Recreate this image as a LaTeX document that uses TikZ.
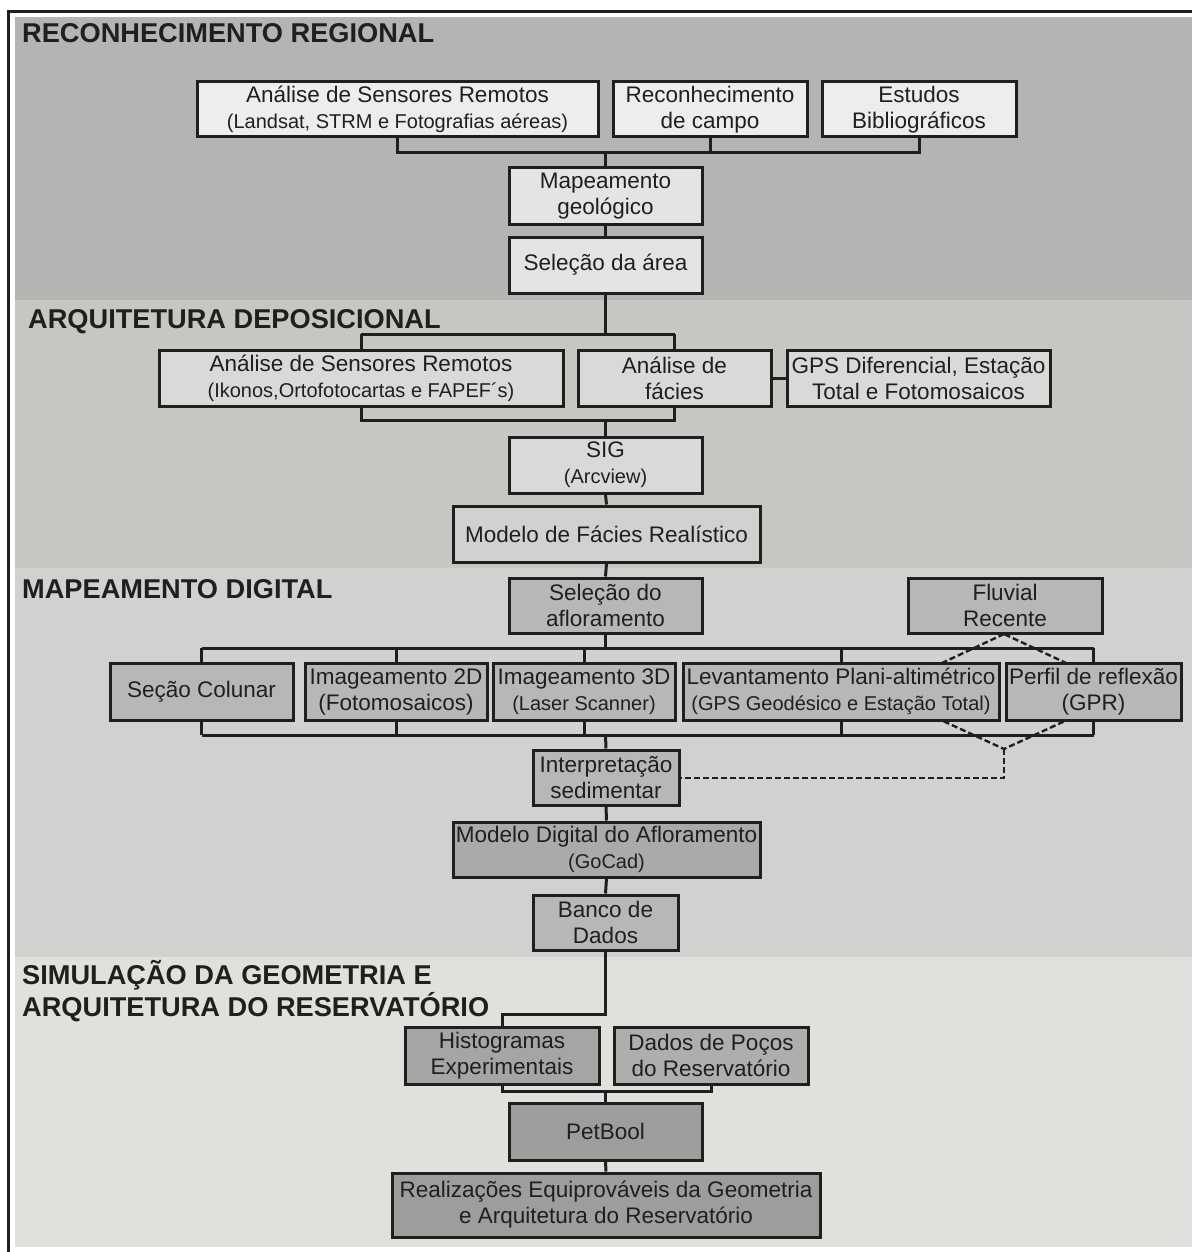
\documentclass[tikz,border=0pt]{standalone}
\usepackage{fontspec}
\setmainfont{Liberation Sans}
\newcommand\mainf{\fontsize{22.5}{26}\selectfont}
\newcommand\subf{\fontsize{20}{26}\selectfont}
\pgfdeclarelayer{bands}
\pgfdeclarelayer{lines}
\pgfsetlayers{bands,lines,main}
\definecolor{ink}{HTML}{1F1F1F}
\definecolor{bandA}{HTML}{B4B4B2}
\definecolor{bandB}{HTML}{C6C6C3}
\definecolor{bandC}{HTML}{D1D1D0}
\definecolor{bandD}{HTML}{E0E0DC}
\definecolor{fA}{HTML}{EDEDEB}
\definecolor{fAb}{HTML}{E4E4E2}
\definecolor{fB}{HTML}{D9D9D7}
\definecolor{fBb}{HTML}{D1D1CF}
\definecolor{fC}{HTML}{B7B7B5}
\definecolor{fCb}{HTML}{AAAAA8}
\definecolor{fD}{HTML}{A5A5A4}
\definecolor{fDb}{HTML}{9E9D9B}
\begin{document}
\begin{tikzpicture}[x=1pt,y=-1pt,
  box/.style={draw=ink, line width=3pt, inner sep=0pt, align=center, text=ink, font=\mainf},
  conn/.style={draw=ink, line width=3pt},
  dconn/.style={draw=ink, line width=2.4pt, dash pattern=on 6pt off 3pt},
  hd/.style={font=\fontsize{27.2}{31}\selectfont\bfseries, anchor=base west, inner sep=0pt, text=ink, align=left}]
\useasboundingbox (0,0) rectangle (1192,1252);

\begin{pgfonlayer}{bands}
\fill[white] (0,0) rectangle (1192,1252);
\fill[bandA] (15,17) rectangle (1192,300);
\fill[bandB] (15,300) rectangle (1192,568);
\fill[bandC] (15,568) rectangle (1192,957);
\fill[bandD] (15,957) rectangle (1192,1247);
\draw[ink, line width=3pt] (8.5,1252) -- (8.5,11.5) -- (1192,11.5);
\end{pgfonlayer}

% headings
\node[hd] (h1) at (22,43) {RECONHECIMENTO REGIONAL};
\node[hd] (h2) at (28,328) {ARQUITETURA DEPOSICIONAL};
\node[hd] (h3) at (22,598) {MAPEAMENTO DIGITAL};
\node[hd] (h4) at (22,984) {SIMULAÇÃO DA GEOMETRIA E};
\node[hd] (h5) at (22,1016) {ARQUITETURA DO RESERVATÓRIO};

% band 1
\node[box, fill=fA, minimum width=401, minimum height=55] (A1) at (397.5,109.5) {Análise de Sensores Remotos\\{\subf (Landsat, STRM e Fotografias aéreas)}};
\node[box, fill=fA, minimum width=194, minimum height=55] (A2) at (710,109.5) {Reconhecimento\\de campo};
\node[box, fill=fA, minimum width=194, minimum height=55] (A3) at (919,109.5) {Estudos\\Bibliográficos};
\node[box, fill=fAb, minimum width=193, minimum height=56] (M1) at (605.5,196) {Mapeamento\\geológico};
\node[box, fill=fAb, minimum width=193, minimum height=56] (M2) at (605.5,265) {Seleção da área};

% band 2
\node[box, fill=fB, minimum width=404, minimum height=56] (B1) at (361,378) {Análise de Sensores Remotos\\{\subf (Ikonos,Ortofotocartas e FAPEF´s)}};
\node[box, fill=fB, minimum width=193, minimum height=56] (B2) at (674.5,378) {Análise de\\fácies};
\node[box, fill=fB, minimum width=263, minimum height=56] (B3) at (918.5,378) {GPS Diferencial, Estação\\Total e Fotomosaicos};
\node[box, fill=fB, minimum width=193, minimum height=56] (S1) at (605.5,465) {SIG\\{\subf (Arcview)}};
\node[box, fill=fBb, minimum width=307, minimum height=56] (F1) at (606.5,534) {Modelo de Fácies Realístico};

% band 3
\node[box, fill=fC, minimum width=193, minimum height=55] (C0) at (605.5,605.5) {Seleção do\\afloramento};
\node[box, fill=fC, minimum width=194, minimum height=55] (FR) at (1005,605.5) {Fluvial\\Recente};
\node[box, fill=fC, minimum width=183, minimum height=57] (C1) at (201.5,691.5) {Seção Colunar};
\node[box, fill=fC, minimum width=182, minimum height=57] (C2) at (396,691.5) {Imageamento 2D\\(Fotomosaicos)};
\node[box, fill=fC, minimum width=182, minimum height=57] (C3) at (584,691.5) {Imageamento 3D\\{\subf (Laser Scanner)}};
\node[box, fill=fC, minimum width=316, minimum height=57] (C4) at (841,691.5) {Levantamento Plani-altimétrico\\{\subf (GPS Geodésico e Estação Total)}};
\node[box, fill=fC, minimum width=175, minimum height=57] (C5) at (1093.5,691.5) {Perfil de reflexão\\(GPR)};
\node[box, fill=fC, minimum width=146, minimum height=55] (I1) at (606,777.5) {Interpretação\\sedimentar};
\node[box, fill=fCb, minimum width=307, minimum height=55] (MD) at (606.5,849.5) {Modelo Digital do Afloramento\\{\subf (GoCad)}};
\node[box, fill=fC, minimum width=145, minimum height=55] (BD) at (605.5,922.5) {Banco de\\Dados};

% band 4
\node[box, fill=fD, minimum width=194, minimum height=57] (H1) at (502,1055.5) {Histogramas\\Experimentais};
\node[box, fill=fD!90!white, minimum width=194, minimum height=57] (D1) at (711,1055.5) {Dados de Poços\\do Reservatório};
\node[box, fill=fDb, minimum width=193, minimum height=57] (P1) at (605.5,1131.5) {PetBool};
\node[box, fill=fDb, minimum width=428, minimum height=64] (R1) at (606,1205) {Realizações Equiprováveis da Geometria\\e Arquitetura do Reservatório};

% junction coordinates
\coordinate (jA) at (605.5,153);
\coordinate (jB1) at (605.5,334);
\coordinate (jB2) at (605.5,420);
\coordinate (jC1) at (605.5,648);
\coordinate (jC2) at (605.5,735);
\coordinate (jD1) at (502,1014);
\coordinate (jD2) at (605.5,1091);
\coordinate (dT) at (1004,634);
\coordinate (dL) at (880,692);
\coordinate (dR) at (1128,692);
\coordinate (dB) at (1004,749);
\coordinate (dK) at (1004,778);

\begin{pgfonlayer}{lines}
% band 1
\draw[conn] (A1.south) |- (jA) -| (A3.south);
\draw[conn] (A2.south) -- (A2.south |- jA);
\draw[conn] (jA) -- (M1.north);
\draw[conn] (M1.south) -- (M2.north);
% band 2
\draw[conn] (M2.south) -- (jB1);
\draw[conn] (B1.center |- jB1) -- (B2.center |- jB1);
\draw[conn] (B1.center |- jB1) -- (B1.north);
\draw[conn] (B2.center |- jB1) -- (B2.north);
\draw[conn] (B1.south) |- (jB2) -| (B2.south);
\draw[conn] (jB2) -- (S1.north);
\draw[conn] (B2.east) -- (B3.west);
\draw[conn] (S1.south) -- (F1.north);
% band 3
\draw[conn] (F1.south) -- (C0.north);
\draw[conn] (C0.south) -- (jC1);
\draw[conn] (C1.center |- jC1) -- (C5.center |- jC1);
\foreach \n in {C1,C2,C3,C4,C5} \draw[conn] (\n.center |- jC1) -- (\n.north);
\draw[conn] (C1.center |- jC2) -- (C5.center |- jC2);
\foreach \n in {C1,C2,C3,C4,C5} \draw[conn] (\n.south) -- (\n.center |- jC2);
\draw[conn] (jC2) -- (I1.north);
\draw[dconn] (dT) -- (dL) -- (dB) -- (dR) -- cycle;
\draw[dconn] (dB) -- (dK) -- (I1.east |- dK);
\draw[conn] (I1.south) -- (MD.north);
\draw[conn] (MD.south) -- (BD.north);
% band 4
\draw[conn] (BD.south) |- (jD1) -- (H1.north);
\draw[conn] (H1.south) |- (jD2) -| (D1.south);
\draw[conn] (jD2) -- (P1.north);
\draw[conn] (P1.south) -- (R1.north);
\end{pgfonlayer}
\end{tikzpicture}
\end{document}
